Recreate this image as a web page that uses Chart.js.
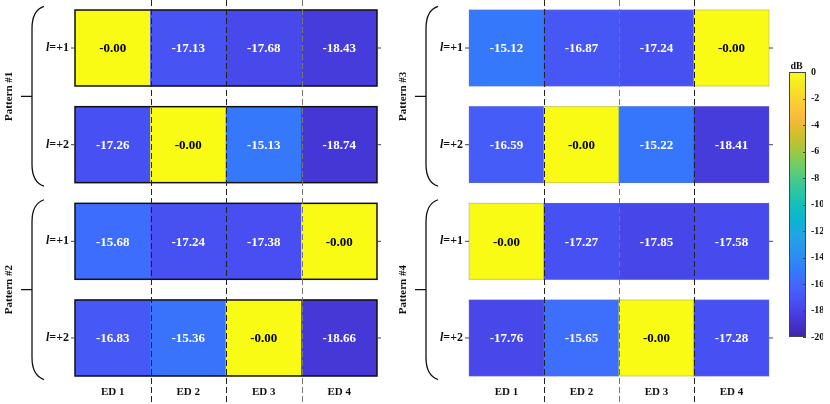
<!DOCTYPE html>
<html>
<head>
<meta charset="utf-8">
<script src="https://cdn.jsdelivr.net/npm/chart.js@4.4.1/dist/chart.umd.min.js"></script>
<style>
  html, body { margin: 0; padding: 0; background: #fff; }
  #wrap { position: relative; width: 830px; height: 404px; overflow: hidden; }
  canvas { position: absolute; top: 0; }
</style>
</head>
<body>
<div id="wrap">
  <canvas id="leftChart" width="390" height="404" style="left:0"></canvas>
  <canvas id="rightChart" width="390" height="404" style="left:390px"></canvas>
  <canvas id="barChart" width="50" height="404" style="left:780px"></canvas>
</div>
<script>
let categories = ["ED 1", "ED 2", "ED 3", "ED 4"];
let orders = ["+1", "+2"];
let leftNames = ["Pattern #1", "Pattern #2"];
let rightNames = ["Pattern #3", "Pattern #4"];

// normalised power in dB, one row per order l, one value per ED
let pattern1 = [[-0.00, -17.13, -17.68, -18.43], [-17.26, -0.00, -15.13, -18.74]];
let pattern2 = [[-15.68, -17.24, -17.38, -0.00], [-16.83, -15.36, -0.00, -18.66]];
let pattern3 = [[-15.12, -16.87, -17.24, -0.00], [-16.59, -0.00, -15.22, -18.41]];
let pattern4 = [[-0.00, -17.27, -17.85, -17.58], [-17.76, -15.65, -0.00, -17.28]];

let colorbarTicks = [0, -2, -4, -6, -8, -10, -12, -14, -16, -18, -20];
let dbMin = -20;
let dbMax = 0;

let serif = "'Liberation Serif', 'Times New Roman', serif";

// parula colormap, sampled from the 64 entry table
let parulaIdx = [0, 4, 8, 12, 16, 20, 24, 28, 32, 36, 40, 44, 48, 52, 56, 60, 63];
let parulaRgb = [
    [0.2422, 0.1504, 0.6603], [0.2706, 0.2147, 0.8364], [0.2813, 0.3006, 0.9414],
    [0.2699, 0.3892, 0.9906], [0.1963, 0.4847, 0.9892], [0.1687, 0.5703, 0.9359],
    [0.1248, 0.6459, 0.8883], [0.0297, 0.7082, 0.8163], [0.0964, 0.7500, 0.7120],
    [0.2161, 0.7843, 0.5923], [0.3909, 0.8029, 0.4354], [0.6174, 0.7876, 0.2612],
    [0.8203, 0.7498, 0.1535], [0.9728, 0.7298, 0.2394], [0.9892, 0.8136, 0.1885],
    [0.9597, 0.9135, 0.1423], [0.9769, 0.9839, 0.0805]
];

function rgbText(c) {
    return "rgb(" + Math.round(c[0] * 255) + "," + Math.round(c[1] * 255) + "," + Math.round(c[2] * 255) + ")";
}

function parula(v) {
    let t = (v - dbMin) / (dbMax - dbMin);
    let p = Math.max(0, Math.min(1, t)) * 63;
    for (let i = 1; i < parulaIdx.length; i++) {
        if (p <= parulaIdx[i]) {
            let a = parulaIdx[i - 1], b = parulaIdx[i];
            let f = (p - a) / (b - a);
            let c0 = parulaRgb[i - 1], c1 = parulaRgb[i];
            return rgbText([0, 1, 2].map(k => c0[k] + (c1[k] - c0[k]) * f));
        }
    }
    return rgbText(parulaRgb[parulaRgb.length - 1]);
}

function fmt(v) {
    return "-" + Math.abs(v).toFixed(2);
}

// row layout in y units: row centres at 0..3
let half = 0.393;
let yMin = -0.4966;
let yMax = 3.683;

let panelPlugin = {
    id: "panel",
    afterDatasetsDraw(chart) {
        let ctx = chart.ctx;
        let cfg = chart.options.plugins.panel;
        let xs = chart.scales.x;
        let ys = chart.scales.y;
        let area = chart.chartArea;
        let L = area.left;

        ctx.save();
        ctx.textBaseline = "middle";

        chart.data.datasets.forEach((ds, r) => {
            let bars = chart.getDatasetMeta(r).data;
            let first = bars[0], last = bars[bars.length - 1];
            let left = first.x - first.width / 2;
            let right = last.x + last.width / 2;
            let top = Math.min(first.y, first.base);
            let bottom = Math.max(first.y, first.base);
            let mid = (top + bottom) / 2;

            ctx.strokeStyle = cfg.frame;
            ctx.lineWidth = cfg.frameWidth;
            ctx.strokeRect(left, top, right - left, bottom - top);

            // small axis ticks on both sides
            ctx.strokeStyle = "#444";
            ctx.lineWidth = 1;
            ctx.beginPath();
            ctx.moveTo(left - 4, mid); ctx.lineTo(left, mid);
            ctx.moveTo(right, mid); ctx.lineTo(right + 4, mid);
            ctx.stroke();

            // row label  l=+1 / l=+2
            ctx.fillStyle = "#111";
            ctx.textAlign = "left";
            ctx.font = "italic bold 12px " + serif;
            let w1 = ctx.measureText("l").width;
            ctx.font = "bold 12px " + serif;
            let rest = "=" + orders[r % 2];
            let w2 = ctx.measureText(rest).width;
            let sx = L - 6 - w1 - w2;
            ctx.font = "italic bold 12px " + serif;
            ctx.fillText("l", sx, mid);
            ctx.font = "bold 12px " + serif;
            ctx.fillText(rest, sx + w1, mid);
        });

        // dashed column separators
        ctx.setLineDash([6, 3]);
        ctx.lineWidth = 1;
        for (let i = 1; i < categories.length; i++) {
            let px = Math.round((xs.getPixelForValue(i - 1) + xs.getPixelForValue(i)) / 2) + 0.5;
            ctx.strokeStyle = cfg.dash[i - 1];
            ctx.beginPath();
            ctx.moveTo(px, 0);
            ctx.lineTo(px, chart.height);
            ctx.stroke();
        }
        ctx.setLineDash([]);

        // cell values
        ctx.textAlign = "center";
        ctx.font = "bold 13px " + serif;
        chart.data.datasets.forEach((ds, r) => {
            chart.getDatasetMeta(r).data.forEach((bar, i) => {
                let v = ds.values[i];
                ctx.fillStyle = v > -10 ? "#000" : "#fff";
                ctx.fillText(fmt(v), bar.x, (bar.y + bar.base) / 2 + 1);
            });
        });

        // ED labels
        ctx.fillStyle = "#111";
        ctx.font = "bold 11px " + serif;
        categories.forEach((c, i) => {
            ctx.fillText(c, xs.getPixelForValue(i), 392);
        });

        // braces and pattern names
        ctx.strokeStyle = "#111";
        ctx.lineWidth = 1.3;
        cfg.names.forEach((name, p) => {
            let cy = ys.getPixelForValue(2 * p + 0.5);
            let top = ys.getPixelForValue(2 * p + 0.5 - 0.93);
            let bot = ys.getPixelForValue(2 * p + 0.5 + 0.93);
            let bx = L - 43, ex = L - 31;
            ctx.beginPath();
            ctx.moveTo(ex, top);
            ctx.quadraticCurveTo(bx, top + 4, bx, top + 22);
            ctx.lineTo(bx, bot - 22);
            ctx.quadraticCurveTo(bx, bot - 4, ex, bot);
            ctx.moveTo(bx, cy);
            ctx.lineTo(bx - 11, cy);
            ctx.stroke();

            ctx.save();
            ctx.translate(L - 66, cy);
            ctx.rotate(-Math.PI / 2);
            ctx.fillStyle = "#111";
            ctx.font = "bold 11px " + serif;
            ctx.textAlign = "center";
            ctx.fillText(name, 0, 0);
            ctx.restore();
        });

        ctx.restore();
    }
};

function makePanel(id, patterns, names, padLeft, padRight, frame, frameWidth, dash) {
    let rows = [];
    patterns.forEach(p => p.forEach(row => rows.push(row)));

    let datasets = rows.map((vals, r) => ({
        data: vals.map(() => [r - half, r + half]),
        values: vals,
        backgroundColor: vals.map(v => parula(v)),
        borderWidth: 0,
        grouped: false,
        barPercentage: 1,
        categoryPercentage: 1
    }));

    return new Chart(document.getElementById(id), {
        type: "bar",
        data: { labels: categories, datasets: datasets },
        options: {
            responsive: false,
            animation: false,
            layout: { padding: { left: padLeft, right: padRight, top: 0, bottom: 0 } },
            plugins: {
                legend: { display: false },
                tooltip: { enabled: false },
                panel: { names: names, frame: frame, frameWidth: frameWidth, dash: dash }
            },
            scales: {
                x: { display: false },
                y: { display: false, reverse: true, min: yMin, max: yMax }
            }
        },
        plugins: [panelPlugin]
    });
}

makePanel("leftChart", [pattern1, pattern2], leftNames, 75, 13, "#111", 1.5, ["#222", "#222", "#777"]);
makePanel("rightChart", [pattern3, pattern4], rightNames, 79, 11, "rgba(120,120,160,0.35)", 1, ["#222", "#777", "#222"]);

// colorbar
let colorbarPlugin = {
    id: "colorbar",
    afterDatasetsDraw(chart) {
        let ctx = chart.ctx;
        let a = chart.chartArea;
        let ys = chart.scales.y;
        ctx.save();
        ctx.strokeStyle = "#444";
        ctx.lineWidth = 1;
        ctx.strokeRect(a.left + 0.5, a.top + 0.5, a.right - a.left - 1, a.bottom - a.top - 1);
        ctx.beginPath();
        colorbarTicks.forEach(v => {
            let py = Math.round(ys.getPixelForValue(v)) + 0.5;
            ctx.moveTo(a.right - 3, py);
            ctx.lineTo(a.right, py);
        });
        ctx.stroke();
        ctx.fillStyle = "#111";
        ctx.font = "bold 10px " + serif;
        ctx.textAlign = "center";
        ctx.textBaseline = "bottom";
        ctx.fillText("dB", (a.left + a.right) / 2 - 1, a.top - 1);
        ctx.restore();
    }
};

new Chart(document.getElementById("barChart"), {
    type: "bar",
    data: {
        labels: ["dB"],
        datasets: [{
            data: [[dbMin, dbMax]],
            borderWidth: 0,
            barPercentage: 1,
            categoryPercentage: 1,
            backgroundColor: function(c) {
                let area = c.chart.chartArea;
                if (!area) return "#888";
                let g = c.chart.ctx.createLinearGradient(0, area.bottom, 0, area.top);
                parulaIdx.forEach((idx, k) => g.addColorStop(idx / 63, rgbText(parulaRgb[k])));
                return g;
            }
        }]
    },
    options: {
        responsive: false,
        animation: false,
        layout: { padding: { left: 9, right: 7, top: 72, bottom: 67 } },
        plugins: { legend: { display: false }, tooltip: { enabled: false } },
        scales: {
            x: { display: false },
            y: {
                position: "right",
                min: dbMin,
                max: dbMax,
                afterBuildTicks: axis => { axis.ticks = colorbarTicks.map(v => ({ value: v })); },
                grid: { display: false, drawTicks: false },
                border: { display: false },
                ticks: { color: "#111", padding: 5, font: { family: serif, size: 10, weight: "bold" } }
            }
        }
    },
    plugins: [colorbarPlugin]
});
</script>
</body>
</html>
